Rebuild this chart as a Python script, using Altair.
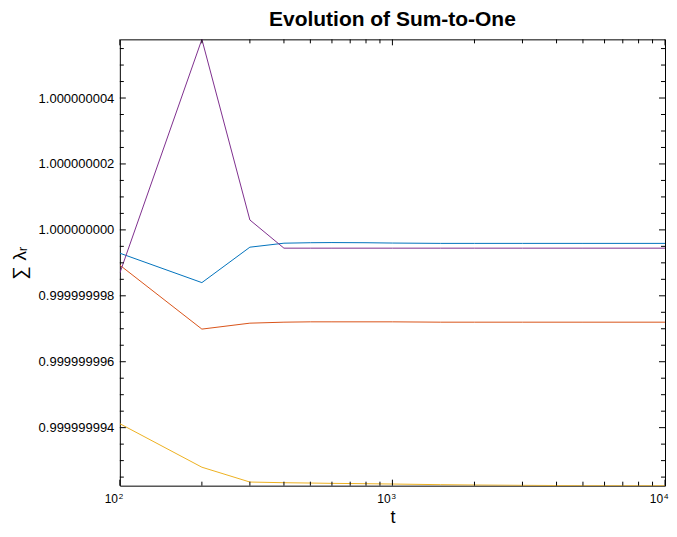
import altair as alt
import pandas as pd

# time steps (log axis)
t = [100, 200, 300, 400, 500, 600, 800, 1000, 1500, 2000, 3000, 5000, 10000]

# sum of lambda_r for each run
blue = [0.999999999293, 0.999999998400, 0.999999999475, 0.999999999596, 0.999999999610,
        0.999999999615, 0.999999999610, 0.999999999600, 0.999999999590, 0.999999999590,
        0.999999999590, 0.999999999590, 0.999999999590]
orange = [0.999999998930, 0.999999996990, 0.999999997170, 0.999999997200, 0.999999997210,
          0.999999997210, 0.999999997210, 0.999999997210, 0.999999997200, 0.999999997200,
          0.999999997200, 0.999999997200, 0.999999997200]
yellow = [0.999999994120, 0.999999992800, 0.999999992350, 0.999999992330, 0.999999992320,
          0.999999992310, 0.999999992300, 0.999999992290, 0.999999992270, 0.999999992260,
          0.999999992250, 0.999999992240, 0.999999992240]
purple = [0.999999998690, 1.000000005780, 1.000000000300, 0.999999999445, 0.999999999445,
          0.999999999445, 0.999999999445, 0.999999999445, 0.999999999445, 0.999999999445,
          0.999999999445, 0.999999999445, 0.999999999445]

series_names = ["run 1", "run 2", "run 3", "run 4"]
colors = ["#0072BD", "#D95319", "#EDB120", "#7E2F8E"]

# tick positions and labels
y_major = [0.999999994, 0.999999996, 0.999999998, 1.0, 1.000000002, 1.000000004]
y_minor = [0.9999999925, 0.999999993, 0.9999999935, 0.9999999945, 0.999999995,
           0.9999999955, 0.9999999965, 0.999999997, 0.9999999975, 0.9999999985,
           0.999999999, 0.9999999995, 1.0000000005, 1.000000001, 1.0000000015,
           1.0000000025, 1.000000003, 1.0000000035, 1.0000000045, 1.000000005,
           1.0000000055]
x_major = [100, 1000, 10000]
x_exponents = ["2", "3", "4"]
x_minor = [200, 300, 400, 500, 600, 700, 800, 900,
           2000, 3000, 4000, 5000, 6000, 7000, 8000, 9000]

rows = []
for name, vals in zip(series_names, [blue, orange, yellow, purple]):
    for ti, v in zip(t, vals):
        rows.append({"t": ti, "sum": v, "series": name})
df = pd.DataFrame(rows)

W, H = 546, 447
FONT = "Liberation Sans"
xscale = alt.Scale(type="log", domain=[100, 10000], nice=False)
yscale = alt.Scale(domain=[float(df["sum"].min()), float(df["sum"].max())], nice=False, zero=False)

xaxis = alt.Axis(values=x_major, labelExpr="'10'", labelOffset=-9, labelFlush=False,
                 labelOverlap=False,
                 title="t", ticks=False, domain=False, grid=False,
                 labelPadding=8, labelFontSize=12, labelFont=FONT, labelColor="black",
                 titleFontSize=18, titleFont=FONT, titleFontWeight="normal",
                 titleColor="black", titlePadding=4)
yaxis = alt.Axis(values=y_major, format=".9f", title="∑ λᵣ",
                 ticks=False, domain=False, grid=False, labelFlush=False,
                 labelPadding=6, labelFontSize=13, labelFont=FONT, labelColor="black",
                 titleFontSize=19, titleFont=FONT, titleFontWeight="normal",
                 titleColor="black", titlePadding=9)

lines = alt.Chart(df).mark_line(strokeWidth=1, clip=True).encode(
    x=alt.X("t:Q", scale=xscale, axis=xaxis),
    y=alt.Y("sum:Q", scale=yscale, axis=yaxis),
    color=alt.Color("series:N", scale=alt.Scale(domain=series_names, range=colors), legend=None),
    detail="series:N",
)


def yticks(vals, length):
    d = pd.DataFrame({"v": vals})
    base = alt.Chart(d).mark_rule(color="black", strokeWidth=1)
    yenc = alt.Y("v:Q", scale=yscale, axis=yaxis)
    left = base.encode(y=yenc, x=alt.value(0), x2=alt.value(length))
    right = base.encode(y=yenc, x=alt.value(W - length), x2=alt.value(W))
    return [left, right]


def xticks(vals, length):
    d = pd.DataFrame({"v": vals})
    base = alt.Chart(d).mark_rule(color="black", strokeWidth=1)
    xenc = alt.X("v:Q", scale=xscale, axis=xaxis)
    bottom = base.encode(x=xenc, y=alt.value(H - length), y2=alt.value(H))
    top = base.encode(x=xenc, y=alt.value(0), y2=alt.value(length))
    return [bottom, top]


# exponents of the log-axis labels (10^2, 10^3, 10^4)
exp_df = pd.DataFrame({"v": x_major, "e": x_exponents})
exps = alt.Chart(exp_df).mark_text(fontSize=8, font=FONT, color="black",
                                   align="left", baseline="top", dx=-1).encode(
    x=alt.X("v:Q", scale=xscale, axis=xaxis),
    y=alt.value(H + 7),
    text="e:N",
)

layers = ([lines] + yticks(y_major, 6) + yticks(y_minor, 4) + xticks(x_major, 6)
          + xticks(x_minor, 4) + [exps])

chart = alt.layer(*layers).properties(
    width=W, height=H,
    background="white",
    title=alt.TitleParams("Evolution of Sum-to-One", fontSize=21, font=FONT, fontWeight="bold",
                          color="black", frame="group", anchor="middle", offset=9),
    autosize=alt.AutoSizeParams(type="none"),
    padding={"left": 112, "top": 31, "right": 4, "bottom": 43},
).configure_view(stroke="black", strokeWidth=1)

chart.save("out.html", embed_options={"renderer": "svg", "actions": False})
